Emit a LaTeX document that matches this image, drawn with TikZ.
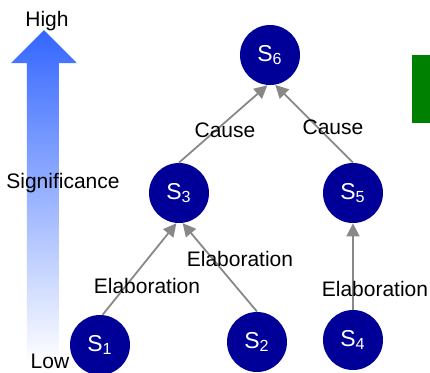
\documentclass[tikz,border=0pt]{standalone}
\usepackage{fontspec}
\setmainfont{Liberation Sans}
\usetikzlibrary{arrows.meta}
\definecolor{sentblue}{RGB}{0,0,153}
\definecolor{sigblue}{RGB}{51,102,255}
\definecolor{relgray}{RGB}{136,136,136}
\definecolor{boxgreen}{RGB}{0,128,0}

\begin{document}
\begin{tikzpicture}[x=0.5pt,y=-0.5pt,
    sent/.style={circle,fill=sentblue,text=white,minimum size=30pt,inner sep=0pt,font=\fontsize{11.5}{13}\selectfont},
    rel/.style={draw=relgray,line width=0.9pt,-{Triangle[length=6.5pt,width=6.5pt]}},
    lbl/.style={font=\fontsize{10.5}{12}\selectfont}]
            \useasboundingbox (0,0) rectangle (430,372);
            % significance arrow
            \shade[top color=sigblue,middle color=sigblue!38,bottom color=white] (44,30) -- (77,63) -- (59,63) -- (59,362) -- (27,362) -- (27,63) -- (11,63) -- cycle;
            \node[lbl] (high) at (47,21) {High};
            \node[lbl] (low) at (50,361) {Low};
            \node[lbl] (signif) at (63,183) {Significance};
            \fill[boxgreen] (412,55) rectangle (430,123);
            % sentences
            \node[sent] (s6) at (270,55) {S\textsubscript{6}};
            \node[sent] (s3) at (179,193) {S\textsubscript{3}};
            \node[sent] (s5) at (353,193) {S\textsubscript{5}};
            \node[sent] (s1) at (100,345) {S\textsubscript{1}};
            \node[sent] (s2) at (257,342) {S\textsubscript{2}};
            \node[sent] (s4) at (353,340) {S\textsubscript{4}};
            % relations
            \draw[rel] (s3.north) -- (s6.265);
            \draw[rel] (s5.north) -- (s6.280);
            \draw[rel] (s1.85) -- (s3.265);
            \draw[rel] (s2.north) -- (s3.277);
            \draw[rel] (s4.north) -- (s5.south);
            \node[lbl] (cause1) at (225,130) {Cause};
            \node[lbl] (cause2) at (333,127) {Cause};
            \node[lbl] (elab1) at (147,286) {Elaboration};
            \node[lbl] (elab2) at (240,259) {Elaboration};
            \node[lbl] (elab3) at (375,289) {Elaboration};
        \end{tikzpicture}
\end{document}
